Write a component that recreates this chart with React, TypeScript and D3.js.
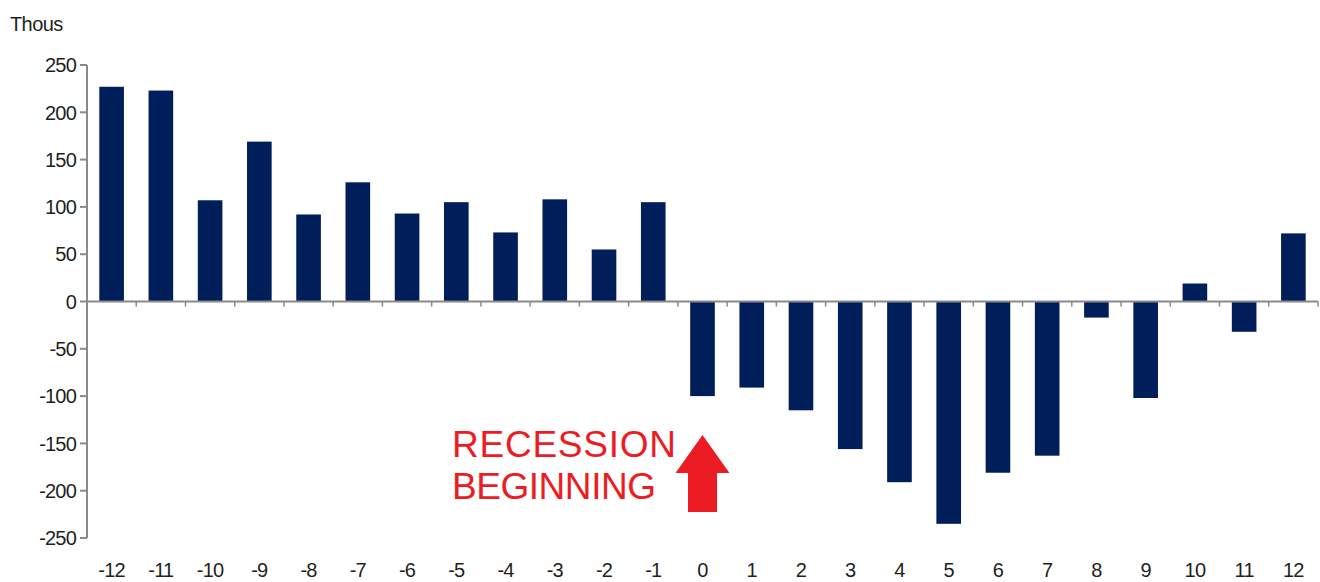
import React from "react";
import * as d3 from "d3";

// Months relative to the start of the recession
const months: number[] = [-12, -11, -10, -9, -8, -7, -6, -5, -4, -3, -2, -1, 0, 1, 2, 3, 4, 5, 6, 7, 8, 9, 10, 11, 12];
// Monthly payroll change, thousands
const payrollChange: number[] = [227, 223, 107, 169, 92, 126, 93, 105, 73, 108, 55, 105, -100, -91, -115, -156, -191, -235, -181, -163, -17, -102, 19, -32, 72];
const yTicks: number[] = [250, 200, 150, 100, 50, 0, -50, -100, -150, -200, -250];
const unitLabel = "Thous";
const noteLines: string[] = ["RECESSION", "BEGINNING"];
const noteWidths: number[] = [224, 204];

const W = 1320;
const H = 582;
const left = 87;
const right = 1318;
const top = 65;
const bottom = 538;

export default function App() {
  const x = d3
    .scaleBand<number>()
    .domain(months)
    .range([left, right])
    .paddingInner(0.5)
    .paddingOuter(0.25);
  const y = d3.scaleLinear().domain([-250, 250]).range([bottom, top]);
  const y0 = y(0);
  const step = x.step();
  const font = "Arial, 'Liberation Sans', Helvetica, sans-serif";
  const axisColor = "#8a8a8a";
  const textColor = "#1f1f1f";
  const barColor = "#001e5a";
  const red = "#ec1c24";

  // Arrow anchored under the month-0 bar
  const ax = (x(0) ?? 0) + x.bandwidth() / 2;
  const arrowTip = 435;
  const arrowBase = 473;
  const arrowEnd = 512;
  const arrowPath = d3.path();
  arrowPath.moveTo(ax, arrowTip);
  arrowPath.lineTo(ax + 27, arrowBase);
  arrowPath.lineTo(ax + 14.5, arrowBase);
  arrowPath.lineTo(ax + 14.5, arrowEnd);
  arrowPath.lineTo(ax - 14.5, arrowEnd);
  arrowPath.lineTo(ax - 14.5, arrowBase);
  arrowPath.lineTo(ax - 27, arrowBase);
  arrowPath.closePath();

  return (
    <svg
      width={W}
      height={H}
      style={{ position: "absolute", left: 0, top: 0, background: "#fff" }}
      fontFamily={font}
    >
      <rect width={W} height={H} fill="#fff" />
      <text x={10} y={31} fontSize={20} fill={textColor} letterSpacing={-0.6}>
        {unitLabel}
      </text>

      {/* bars */}
      {months.map((m, i) => {
        const v = payrollChange[i];
        return (
          <rect
            key={m}
            x={x(m)}
            width={x.bandwidth()}
            y={Math.min(y(v), y0)}
            height={Math.abs(y(v) - y0)}
            fill={barColor}
          />
        );
      })}

      {/* y axis */}
      <line x1={left} x2={left} y1={top} y2={bottom} stroke={axisColor} strokeWidth={2} />
      {yTicks.map((t) => (
        <g key={t}>
          <line x1={left - 7} x2={left} y1={y(t)} y2={y(t)} stroke={axisColor} strokeWidth={2} />
          <text
            x={left - 11}
            y={y(t)}
            dy="0.36em"
            textAnchor="end"
            fontSize={20}
            fill={textColor}
            letterSpacing={-0.8}
          >
            {t}
          </text>
        </g>
      ))}

      {/* x axis along zero, ticks at band boundaries */}
      <line x1={left} x2={right} y1={y0} y2={y0} stroke={axisColor} strokeWidth={2} />
      {months.map((m, i) => (
        <line
          key={`t${m}`}
          x1={left + step * (i + 1)}
          x2={left + step * (i + 1)}
          y1={y0}
          y2={y0 + 5}
          stroke={axisColor}
          strokeWidth={1.5}
        />
      ))}
      {months.map((m) => (
        <text
          key={`l${m}`}
          x={(x(m) ?? 0) + x.bandwidth() / 2}
          y={577}
          textAnchor="middle"
          fontSize={20}
          fill={textColor}
          letterSpacing={-0.8}
        >
          {m}
        </text>
      ))}

      {/* annotation */}
      {noteLines.map((line, i) => (
        <text
          key={line}
          x={452}
          y={457 + i * 42}
          fontSize={37}
          fill={red}
          textLength={noteWidths[i]}
          lengthAdjust="spacing"
        >
          {line}
        </text>
      ))}
      <path d={arrowPath.toString()} fill={red} />
    </svg>
  );
}
